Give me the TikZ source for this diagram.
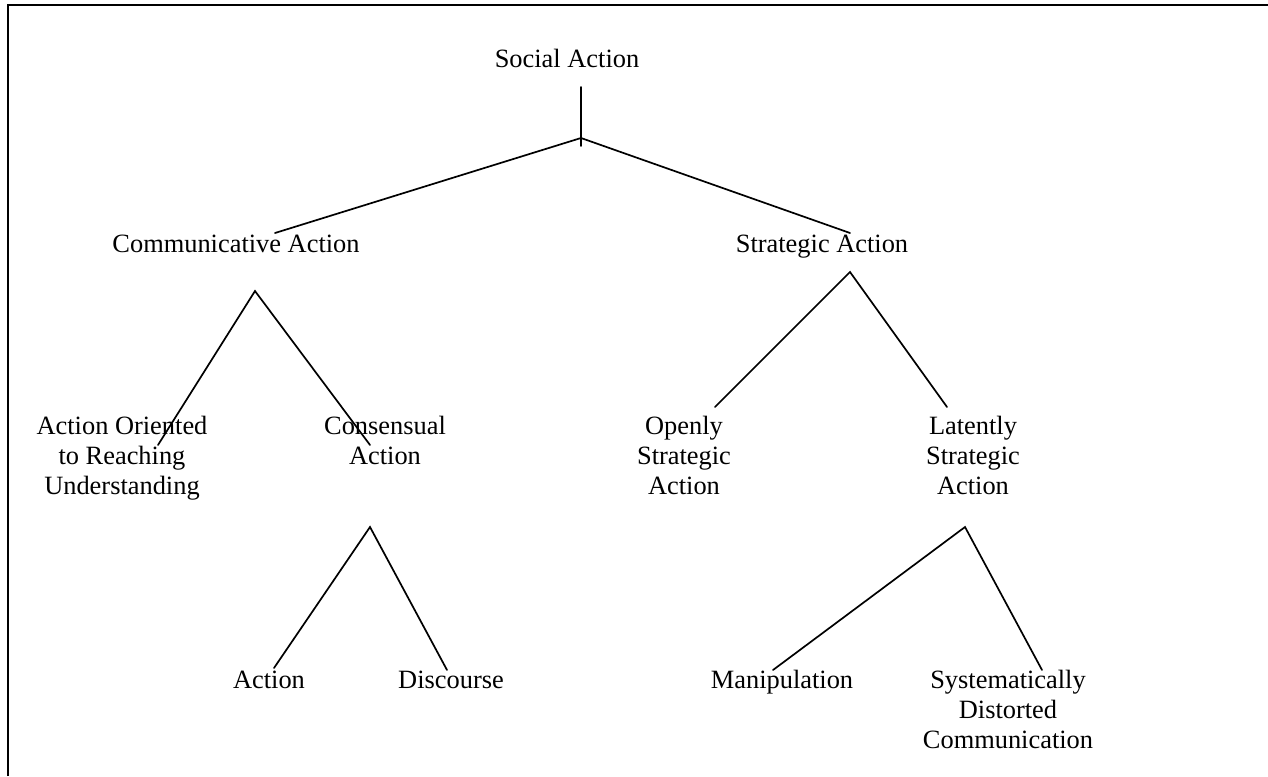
\documentclass[tikz,border=0pt]{standalone}
\usepackage{fontspec}
\setmainfont{Liberation Serif}
\begin{document}
\begin{tikzpicture}[x=1pt,y=-1pt,
  lbl/.style={inner sep=0pt,anchor=base,align=center,font=\fontsize{26.4}{29.8}\selectfont},
  branch/.style={line width=1.7pt,line cap=round},
  frame/.style={line width=2.6pt}]
\useasboundingbox (0,0) rectangle (1268,776);
% frame
\coordinate (ftl) at (8,5);
\coordinate (ftr) at (1268,5);
\coordinate (fbl) at (8,776);
\draw[frame] (fbl) -- (ftl) -- (ftr);
% labels (multi-line labels are anchored at the baseline of their last line)
\node[lbl] (social) at (567,67) {Social Action};
\node[lbl] (comm) at (236,252) {Communicative Action};
\node[lbl] (strat) at (822,252) {Strategic Action};
\node[lbl] (aoru) at (122,494) {Action Oriented\\to Reaching\\Understanding};
\node[lbl] (cons) at (385,464) {Consensual\\Action};
\node[lbl] (open) at (684,494) {Openly\\Strategic\\Action};
\node[lbl] (late) at (973,494) {Latently\\Strategic\\Action};
\node[lbl] (act) at (269,688) {Action};
\node[lbl] (disc) at (451,688) {Discourse};
\node[lbl] (manip) at (782,688) {Manipulation};
\node[lbl] (sys) at (1008,748) {Systematically\\Distorted\\Communication};
% branch points
\coordinate (s0) at (581,87);
\coordinate (s1) at (581,146);
\coordinate (sj) at (581,138);
\coordinate (cl) at (275,233);
\coordinate (cr) at (850,233);
\coordinate (ca) at (255,291);
\coordinate (cal) at (158,445);
\coordinate (car) at (370,445);
\coordinate (sa) at (850,272);
\coordinate (sal) at (715,407);
\coordinate (sar) at (947,407);
\coordinate (na) at (370,527);
\coordinate (nal) at (274,668);
\coordinate (nar) at (447,670);
\coordinate (la) at (965,527);
\coordinate (lal) at (773,670);
\coordinate (lar) at (1042,670);
\draw[branch] (s0) -- (s1);
\draw[branch] (cl) -- (sj) -- (cr);
\draw[branch] (cal) -- (ca) -- (car);
\draw[branch] (sal) -- (sa) -- (sar);
\draw[branch] (nal) -- (na) -- (nar);
\draw[branch] (lal) -- (la) -- (lar);
\end{tikzpicture}
\end{document}
